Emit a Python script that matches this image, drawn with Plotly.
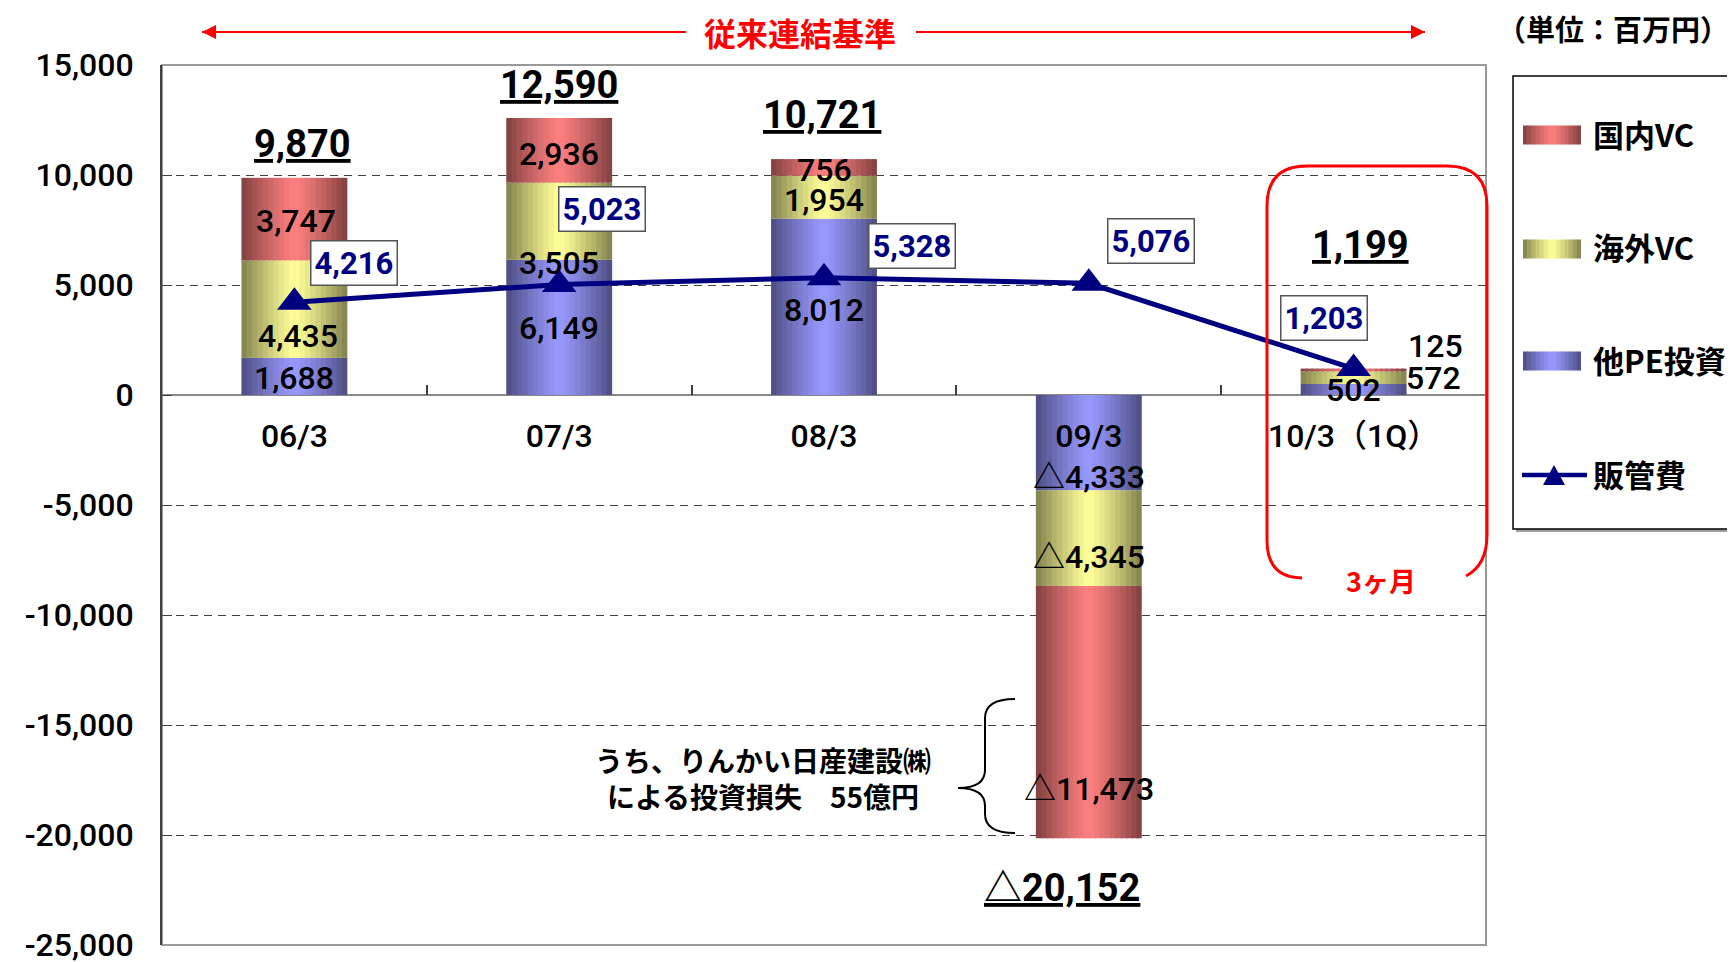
import plotly.graph_objects as go

# 単位: 百万円
CATEGORIES = ["06/3", "07/3", "08/3", "09/3", "10/3（1Q）"]
OTHER_PE = [1688, 6149, 8012, -4333, 502]        # 他PE投資
OVERSEAS_VC = [4435, 3505, 1954, -4345, 572]     # 海外VC
DOMESTIC_VC = [3747, 2936, 756, -11473, 125]     # 国内VC
SGA = [4216, 5023, 5328, 5076, 1203]             # 販管費
TOTALS = [9870, 12590, 10721, -20152, 1199]
Y_TICKS = [15000, 10000, 5000, 0, -5000, -10000, -15000, -20000, -25000]

Y_MIN, Y_MAX = -25000, 15000
NUM_FONT = "Roboto, Noto Sans CJK JP"
JP_FONT = "Noto Sans CJK JP"
NAVY = "#000080"
RED = "#ff0000"

# page sits 8px inside the browser window (body margin)
OFF = 8
W, H = 1735 - OFF, 962 - OFF
# plot area in window pixels
L, R, T, B = 162, 1486, 65, 945


def px(x):
    return (x - L) / (R - L)


def py(y):
    return (B - y) / (B - T)


def shade(rgb, t):
    f = 1 - 0.5 * abs(2 * t - 1) ** 1.2
    return "rgb(%d,%d,%d)" % tuple(round(c * f) for c in rgb)


BAR_W = 0.4
N_STRIPS = 20
step = BAR_W / N_STRIPS

series = [
    ("他PE投資", OTHER_PE, (153, 153, 255)),
    ("海外VC", OVERSEAS_VC, (255, 255, 153)),
    ("国内VC", DOMESTIC_VC, (255, 128, 128)),
]

fig = go.Figure()

base = [0] * len(CATEGORIES)
bases = []
for name, vals, rgb in series:
    bases.append(list(base))
    for k in range(N_STRIPS):
        t = (k + 0.5) / N_STRIPS
        fig.add_trace(go.Bar(
            x=CATEGORIES, y=vals, base=list(base),
            width=step * 1.4 if k < N_STRIPS - 1 else step,
            offset=-BAR_W / 2 + k * step,
            marker=dict(color=shade(rgb, t), line=dict(width=0)),
            name=name, showlegend=False, hoverinfo="skip",
        ))
    base = [b + v for b, v in zip(base, vals)]

fig.add_trace(go.Scatter(
    x=CATEGORIES, y=SGA, mode="lines+markers", name="販管費", showlegend=False,
    line=dict(color=NAVY, width=5),
    marker=dict(symbol="triangle-up", size=30, color=NAVY),
))

# legend entries (symbols are drawn as gradient swatches below)
legend_names = ["国内VC", "海外VC", "他PE投資", "販管費"]
for rank, name in enumerate(legend_names, start=1):
    fig.add_trace(go.Scatter(
        x=[None], y=[None], mode="markers", name=name,
        marker=dict(color="rgba(0,0,0,0)"), legendgroup=name, legendrank=rank,
    ))

annotations = []

# segment labels (pixel nudges to follow the original layout)
seg_shift = {
    "他PE投資": ([0, 0, 0, 0, 0], [-2, -1, -3, -34, -1]),
    "海外VC": ([4, 0, 0, 0, 80], [-27, -42, -3, -19, 0]),
    "国内VC": ([2, 0, 0, 0, 82], [-2, -4, -3, -77, 24]),
}
for (name, vals, rgb), bs in zip(series, bases):
    xs, ys = seg_shift[name]
    for i, (c, v, b0) in enumerate(zip(CATEGORIES, vals, bs)):
        txt = f"△{abs(v):,}" if v < 0 else f"{v:,}"
        annotations.append(dict(
            x=c, y=b0 + v / 2, text=txt, showarrow=False,
            xshift=xs[i], yshift=ys[i],
            font=dict(size=32, color="black", family=NUM_FONT, weight=500),
        ))

# totals
tot_xs = [8, 0, -2, -27, 7]
tot_ys = [34, 33, 44, -50, 124]
for i, (c, v) in enumerate(zip(CATEGORIES, TOTALS)):
    txt = f"△{abs(v):,}" if v < 0 else f"{v:,}"
    annotations.append(dict(
        x=c, y=v, text=f"<u>{txt}</u>", showarrow=False,
        xshift=tot_xs[i], yshift=tot_ys[i],
        font=dict(size=38, color="black", family=NUM_FONT, weight="bold"),
    ))

# SG&A labels in boxes
sga_xs = [60, 43, 88, 62, -30]
sga_ys = [39, 75, 32, 42, 51]
for i, (c, v) in enumerate(zip(CATEGORIES, SGA)):
    annotations.append(dict(
        x=c, y=v, text=f"{v:,}", showarrow=False,
        xshift=sga_xs[i], yshift=sga_ys[i],
        bgcolor="white", bordercolor="#555555", borderwidth=1.5, borderpad=3,
        font=dict(size=31, color=NAVY, family=NUM_FONT, weight="bold"),
    ))


def note(x, y, text, size, color="black", **kw):
    return dict(xref="paper", yref="paper", x=px(x), y=py(y), text=text,
                xanchor="center", yanchor="middle", showarrow=False,
                font=dict(size=size, color=color, family=JP_FONT, weight="bold"), **kw)


# header arrow "従来連結基準"
for x_end, x_tail in ((202, 686), (1425, 916)):
    annotations.append(dict(
        xref="paper", yref="paper", x=px(x_end), y=py(32), text="",
        showarrow=True, ax=x_tail - x_end, ay=0, arrowhead=2, arrowsize=1.4,
        arrowwidth=2, arrowcolor=RED,
    ))
annotations += [
    note(800, 32, "従来連結基準", 32, RED),
    note(1613, 28, "（単位：百万円）", 29),
    note(1381, 580, "3ヶ月", 27, RED),
    note(763, 778, "うち、りんかい日産建設㈱<br>による投資損失　55億円", 28, align="center"),
]


def path(points):
    out = []
    for cmd, pts in points:
        coords = " ".join(f"{px(x):.5f},{py(y):.5f}" for x, y in pts)
        out.append(f"{cmd}{coords}")
    return " ".join(out)


rounded = path([
    ("M", [(1302, 578)]), ("Q", [(1267, 578), (1267, 540)]),
    ("L", [(1267, 206)]), ("Q", [(1267, 166), (1307, 166)]),
    ("L", [(1447, 166)]), ("Q", [(1487, 166), (1487, 206)]),
    ("L", [(1487, 535)]), ("Q", [(1487, 565), (1466, 576)]),
])
brace = path([
    ("M", [(1015, 699)]), ("Q", [(985, 699), (985, 718)]),
    ("L", [(985, 770)]), ("Q", [(985, 788), (958, 788)]),
    ("Q", [(985, 788), (985, 806)]), ("L", [(985, 814)]),
    ("Q", [(985, 833), (1015, 833)]),
])

shapes = [
    dict(type="rect", xref="paper", yref="paper", x0=0, x1=1, y0=0, y1=1,
         line=dict(color="#999999", width=2), layer="below"),
    dict(type="line", xref="paper", yref="paper", x0=px(202), x1=px(686),
         y0=py(32), y1=py(32), line=dict(color=RED, width=2)),
    dict(type="line", xref="paper", yref="paper", x0=px(916), x1=px(1425),
         y0=py(32), y1=py(32), line=dict(color=RED, width=2)),
    dict(type="path", xref="paper", yref="paper", path=rounded,
         line=dict(color=RED, width=3)),
    dict(type="path", xref="paper", yref="paper", path=brace,
         line=dict(color="black", width=2)),
    # legend frame with a soft shadow
    dict(type="rect", xref="paper", yref="paper", x0=px(1516), x1=px(1733),
         y0=py(532), y1=py(79), line=dict(width=0), fillcolor="#a0a0a0", layer="below"),
    dict(type="rect", xref="paper", yref="paper", x0=px(1513), x1=px(1730),
         y0=py(529), y1=py(76), line=dict(color="black", width=1.5),
         fillcolor="white", layer="below"),
]

# legend swatches: gradient bars for the stacked series, line + triangle for 販管費
swatch_rgb = [(255, 128, 128), (255, 255, 153), (153, 153, 255)]
swatch_y = [135, 249, 361]
n_sw = 14
for rgb, yc in zip(swatch_rgb, swatch_y):
    for k in range(n_sw):
        x0 = 1523 + k * 58 / n_sw
        x1 = x0 + 58 / n_sw + (0.6 if k < n_sw - 1 else 0)
        shapes.append(dict(
            type="rect", xref="paper", yref="paper",
            x0=px(x0), x1=px(x1), y0=py(yc + 9.5), y1=py(yc - 9.5),
            line=dict(width=0), fillcolor=shade(rgb, (k + 0.5) / n_sw),
        ))
shapes.append(dict(type="line", xref="paper", yref="paper", x0=px(1522), x1=px(1587),
                   y0=py(475), y1=py(475), line=dict(color=NAVY, width=4.5)))
shapes.append(dict(type="path", xref="paper", yref="paper", fillcolor=NAVY,
                   line=dict(width=0),
                   path=path([("M", [(1543, 485)]), ("L", [(1565, 485)]),
                              ("L", [(1554, 465)]), ("Z", [])])))

fig.update_layout(
    width=W, height=H,
    paper_bgcolor="white", plot_bgcolor="white",
    margin=dict(l=L - OFF, r=W + OFF - R, t=T - OFF, b=H + OFF - B, autoexpand=False),
    font=dict(family=NUM_FONT, color="black"),
    barmode="overlay",
    xaxis=dict(
        type="category", anchor="free", position=(0 - Y_MIN) / (Y_MAX - Y_MIN),
        showgrid=False, showline=False, zeroline=False,
        ticks="inside", tickson="boundaries", ticklen=10, tickwidth=1.5,
        tickcolor="#404040", tickfont=dict(size=32, weight=500), ticklabelstandoff=19,
    ),
    yaxis=dict(
        range=[Y_MIN, Y_MAX], tickvals=Y_TICKS, ticktext=[f"{v:,}" for v in Y_TICKS],
        showgrid=True, gridcolor="#404040", gridwidth=1, griddash="8px,6px",
        zeroline=True, zerolinecolor="#888888", zerolinewidth=2,
        showline=True, linecolor="#404040", linewidth=2,
        ticks="inside", ticklen=10, tickcolor="#404040",
        tickfont=dict(size=32, weight=500), ticklabelstandoff=20,
        ticklabeloverflow="allow",
    ),
    legend=dict(
        x=px(1523), y=py(108), xanchor="left", yanchor="top",
        bgcolor="rgba(0,0,0,0)", borderwidth=0, tracegroupgap=70, itemwidth=60,
        font=dict(size=31, family=JP_FONT, weight="bold"),
    ),
    annotations=annotations,
    shapes=shapes,
)

fig.write_html("out.html")
